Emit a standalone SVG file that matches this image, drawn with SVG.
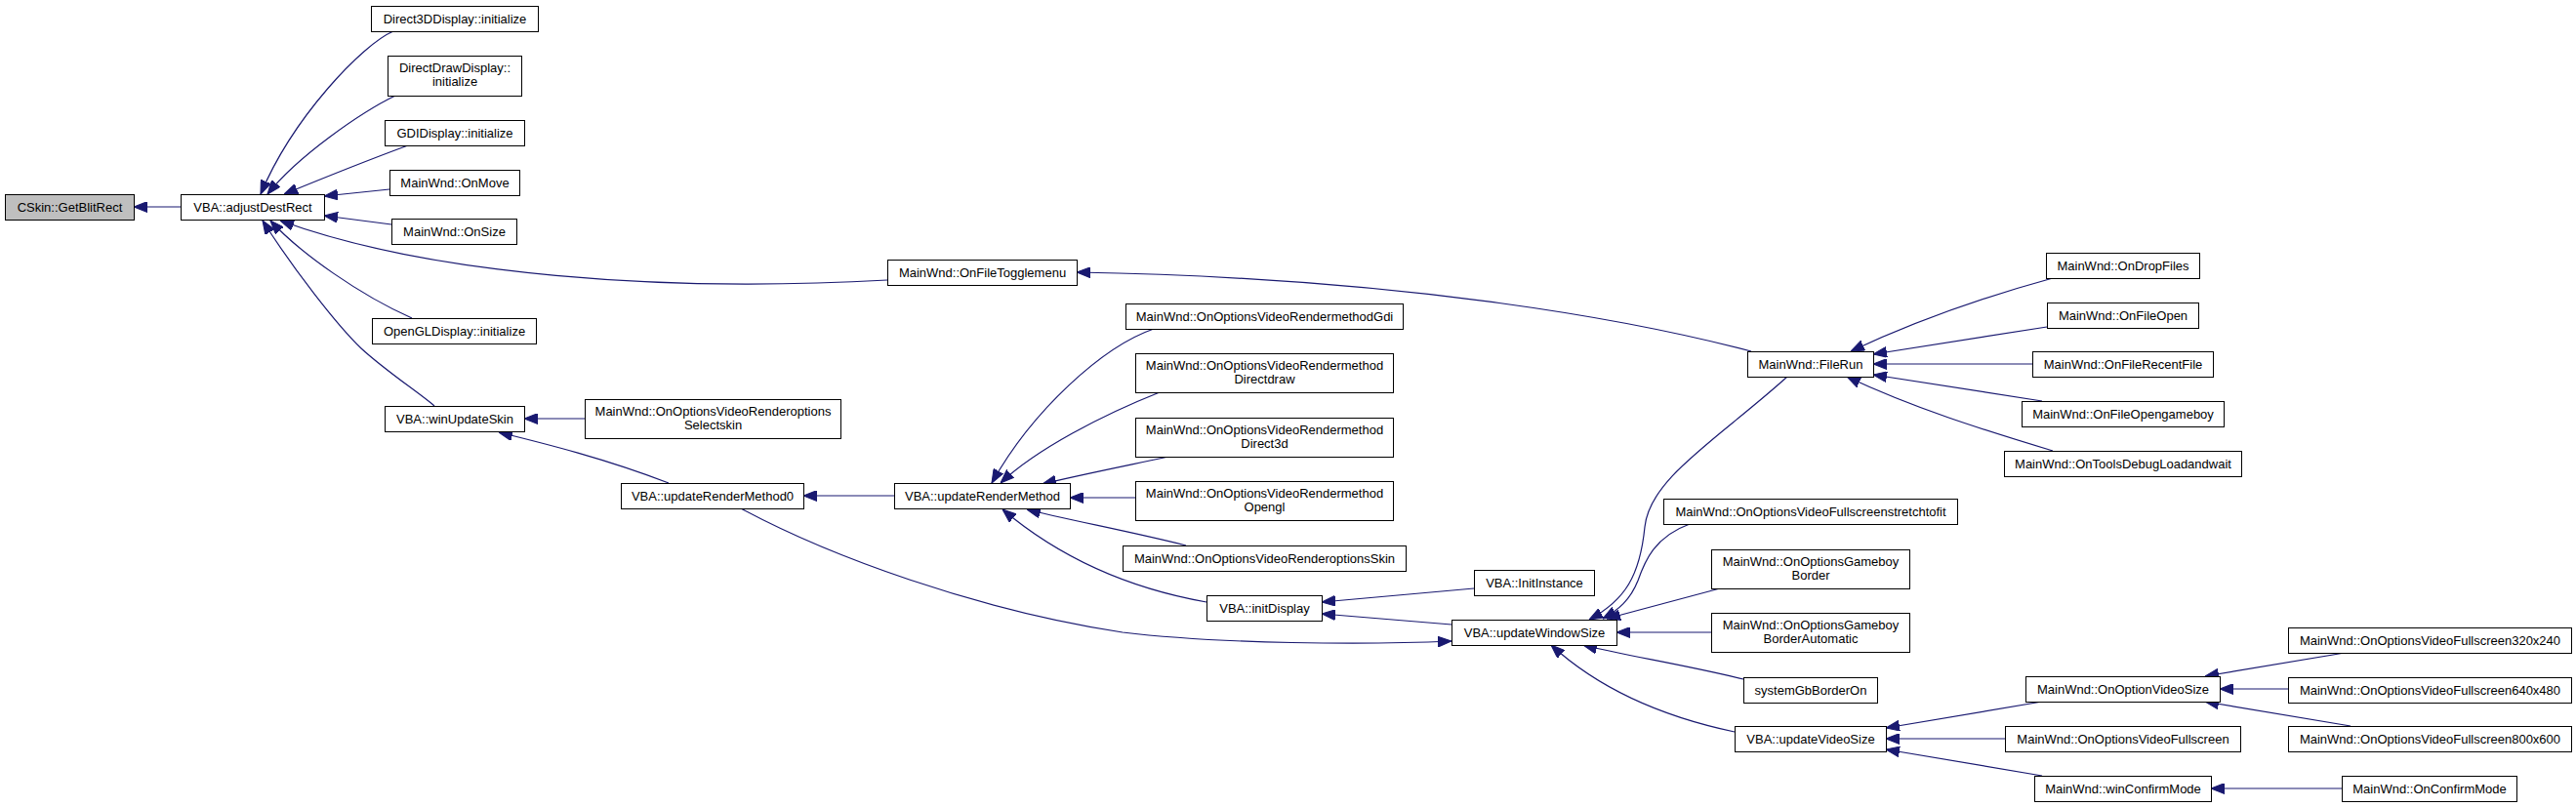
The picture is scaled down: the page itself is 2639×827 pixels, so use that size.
<svg xmlns="http://www.w3.org/2000/svg" width="2639" height="827" viewBox="0 0 2639 827">
<style>
.n rect{fill:#fff;stroke:#000;stroke-width:1}
.n.root rect{fill:#bfbfbf}
.n text{font-family:"Liberation Sans",Arial,sans-serif;font-size:13px;fill:#000;text-anchor:middle}
#edges path{fill:none;stroke:#191970;stroke-width:1.2;marker-end:url(#ah)}
</style>
<defs>
<marker id="ah" markerUnits="userSpaceOnUse" markerWidth="14" markerHeight="11" refX="13" refY="5" orient="auto" viewBox="0 0 13 10">
<path d="M0,0 L13,5 L0,10 z" fill="#191970" stroke="#191970" stroke-width="1"/>
</marker>
</defs>
<rect width="2639" height="827" fill="#fff"/>
<g id="edges">
<path d="M185,212 L137,212"/>
<path d="M403,32 C372,45 300,120 267,199"/>
<path d="M405,98 C370,115 305,160 274,199"/>
<path d="M418,149 C380,163 325,185 291,199"/>
<path d="M399,194 L332,201"/>
<path d="M401,230 L332,221"/>
<path d="M909,287 C680,300 440,282 287,226"/>
<path d="M422,326 C370,303 308,260 277,226"/>
<path d="M445,416 C430,403 395,380 370,357 C345,333 300,275 269,226"/>
<path d="M599,429 L537,429"/>
<path d="M685,495 C620,470 560,455 511,443"/>
<path d="M916,508 L823,508"/>
<path d="M1182,337 C1130,355 1058,420 1016,495"/>
<path d="M1188,402 C1130,425 1062,460 1025,495"/>
<path d="M1197,468 C1150,478 1100,488 1068,496"/>
<path d="M1163,510 L1096,510"/>
<path d="M1215,559 C1160,545 1090,532 1052,522"/>
<path d="M1236,617 C1140,600 1072,560 1027,522"/>
<path d="M759,521 C850,570 1000,625 1150,648 C1250,660 1400,661 1487,657"/>
<path d="M1487,640 L1354,629"/>
<path d="M1510,603 L1354,617"/>
<path d="M1831,386 C1760,450 1690,490 1685,540 C1680,590 1665,615 1628,635"/>
<path d="M1731,537 C1695,550 1685,575 1678,595 C1670,615 1658,625 1642,634"/>
<path d="M1762,603 L1646,634"/>
<path d="M1753,648 L1656,648"/>
<path d="M1786,696 C1720,680 1665,672 1622,661"/>
<path d="M1777,750 C1720,738 1648,715 1589,661"/>
<path d="M1794,360 C1680,330 1450,285 1103,279"/>
<path d="M2103,285 C2030,305 1960,330 1896,360"/>
<path d="M2097,335 L1919,363"/>
<path d="M2082,373 L1919,373"/>
<path d="M2092,411 L1919,384"/>
<path d="M2103,462 C2030,440 1960,418 1892,386"/>
<path d="M2092,719 L1932,746"/>
<path d="M2054,757 L1932,757"/>
<path d="M2092,795 L1932,768"/>
<path d="M2408,668 L2259,693"/>
<path d="M2344,706 L2274,706"/>
<path d="M2408,744 L2259,719"/>
<path d="M2399,808 L2265,808"/>
</g>
<g id="n1" class="n root"><rect x="5.5" y="199.5" width="132" height="26"/><text x="71.5" y="217">CSkin::GetBlitRect</text></g>
<g id="n2" class="n"><rect x="185.5" y="199.5" width="147" height="26"/><text x="259" y="217">VBA::adjustDestRect</text></g>
<g id="n3" class="n"><rect x="380.5" y="6.5" width="171" height="26"/><text x="466" y="24">Direct3DDisplay::initialize</text></g>
<g id="n4" class="n"><rect x="397.5" y="57.5" width="137" height="41"/><text x="466" y="74">DirectDrawDisplay::</text><text x="466" y="88">initialize</text></g>
<g id="n5" class="n"><rect x="394.5" y="123.5" width="143" height="26"/><text x="466" y="141">GDIDisplay::initialize</text></g>
<g id="n6" class="n"><rect x="399.5" y="174.5" width="133" height="26"/><text x="466" y="192">MainWnd::OnMove</text></g>
<g id="n7" class="n"><rect x="401.5" y="224.5" width="128" height="26"/><text x="465.5" y="242">MainWnd::OnSize</text></g>
<g id="n8" class="n"><rect x="381.5" y="326.5" width="168" height="26"/><text x="465.5" y="344">OpenGLDisplay::initialize</text></g>
<g id="n9" class="n"><rect x="394.5" y="416.5" width="143" height="26"/><text x="466" y="434">VBA::winUpdateSkin</text></g>
<g id="n10" class="n"><rect x="599.5" y="409.5" width="262" height="40"/><text x="730.5" y="426">MainWnd::OnOptionsVideoRenderoptions</text><text x="730.5" y="440">Selectskin</text></g>
<g id="n11" class="n"><rect x="636.5" y="495.5" width="187" height="26"/><text x="730" y="513">VBA::updateRenderMethod0</text></g>
<g id="n12" class="n"><rect x="916.5" y="495.5" width="180" height="26"/><text x="1006.5" y="513">VBA::updateRenderMethod</text></g>
<g id="n13" class="n"><rect x="909.5" y="266.5" width="194" height="26"/><text x="1006.5" y="284">MainWnd::OnFileTogglemenu</text></g>
<g id="n14" class="n"><rect x="1153.5" y="311.5" width="284" height="26"/><text x="1295.5" y="329">MainWnd::OnOptionsVideoRendermethodGdi</text></g>
<g id="n15" class="n"><rect x="1163.5" y="362.5" width="264" height="40"/><text x="1295.5" y="379">MainWnd::OnOptionsVideoRendermethod</text><text x="1295.5" y="393">Directdraw</text></g>
<g id="n16" class="n"><rect x="1163.5" y="428.5" width="264" height="40"/><text x="1295.5" y="445">MainWnd::OnOptionsVideoRendermethod</text><text x="1295.5" y="459">Direct3d</text></g>
<g id="n17" class="n"><rect x="1163.5" y="493.5" width="264" height="40"/><text x="1295.5" y="510">MainWnd::OnOptionsVideoRendermethod</text><text x="1295.5" y="524">Opengl</text></g>
<g id="n18" class="n"><rect x="1150.5" y="559.5" width="290" height="26"/><text x="1295.5" y="577">MainWnd::OnOptionsVideoRenderoptionsSkin</text></g>
<g id="n19" class="n"><rect x="1236.5" y="610.5" width="118" height="26"/><text x="1295.5" y="628">VBA::initDisplay</text></g>
<g id="n20" class="n"><rect x="1510.5" y="584.5" width="123" height="26"/><text x="1572" y="602">VBA::InitInstance</text></g>
<g id="n21" class="n"><rect x="1487.5" y="635.5" width="169" height="26"/><text x="1572" y="653">VBA::updateWindowSize</text></g>
<g id="n22" class="n"><rect x="1790.5" y="360.5" width="129" height="26"/><text x="1855" y="378">MainWnd::FileRun</text></g>
<g id="n23" class="n"><rect x="1704.5" y="511.5" width="301" height="26"/><text x="1855" y="529">MainWnd::OnOptionsVideoFullscreenstretchtofit</text></g>
<g id="n24" class="n"><rect x="1753.5" y="563.5" width="203" height="40"/><text x="1855" y="580">MainWnd::OnOptionsGameboy</text><text x="1855" y="594">Border</text></g>
<g id="n25" class="n"><rect x="1753.5" y="628.5" width="203" height="40"/><text x="1855" y="645">MainWnd::OnOptionsGameboy</text><text x="1855" y="659">BorderAutomatic</text></g>
<g id="n26" class="n"><rect x="1786.5" y="694.5" width="137" height="26"/><text x="1855" y="712">systemGbBorderOn</text></g>
<g id="n27" class="n"><rect x="1777.5" y="744.5" width="155" height="26"/><text x="1855" y="762">VBA::updateVideoSize</text></g>
<g id="n28" class="n"><rect x="2096.5" y="259.5" width="157" height="26"/><text x="2175" y="277">MainWnd::OnDropFiles</text></g>
<g id="n29" class="n"><rect x="2097.5" y="310.5" width="155" height="26"/><text x="2175" y="328">MainWnd::OnFileOpen</text></g>
<g id="n30" class="n"><rect x="2082.5" y="360.5" width="185" height="26"/><text x="2175" y="378">MainWnd::OnFileRecentFile</text></g>
<g id="n31" class="n"><rect x="2071.5" y="411.5" width="207" height="26"/><text x="2175" y="429">MainWnd::OnFileOpengameboy</text></g>
<g id="n32" class="n"><rect x="2053.5" y="462.5" width="243" height="26"/><text x="2175" y="480">MainWnd::OnToolsDebugLoadandwait</text></g>
<g id="n33" class="n"><rect x="2075.5" y="693.5" width="199" height="26"/><text x="2175" y="711">MainWnd::OnOptionVideoSize</text></g>
<g id="n34" class="n"><rect x="2054.5" y="744.5" width="241" height="26"/><text x="2175" y="762">MainWnd::OnOptionsVideoFullscreen</text></g>
<g id="n35" class="n"><rect x="2084.5" y="795.5" width="181" height="26"/><text x="2175" y="813">MainWnd::winConfirmMode</text></g>
<g id="n36" class="n"><rect x="2344.5" y="643.5" width="290" height="26"/><text x="2489.5" y="661">MainWnd::OnOptionsVideoFullscreen320x240</text></g>
<g id="n37" class="n"><rect x="2344.5" y="694.5" width="290" height="26"/><text x="2489.5" y="712">MainWnd::OnOptionsVideoFullscreen640x480</text></g>
<g id="n38" class="n"><rect x="2344.5" y="744.5" width="290" height="26"/><text x="2489.5" y="762">MainWnd::OnOptionsVideoFullscreen800x600</text></g>
<g id="n39" class="n"><rect x="2399.5" y="795.5" width="179" height="26"/><text x="2489" y="813">MainWnd::OnConfirmMode</text></g>
</svg>
